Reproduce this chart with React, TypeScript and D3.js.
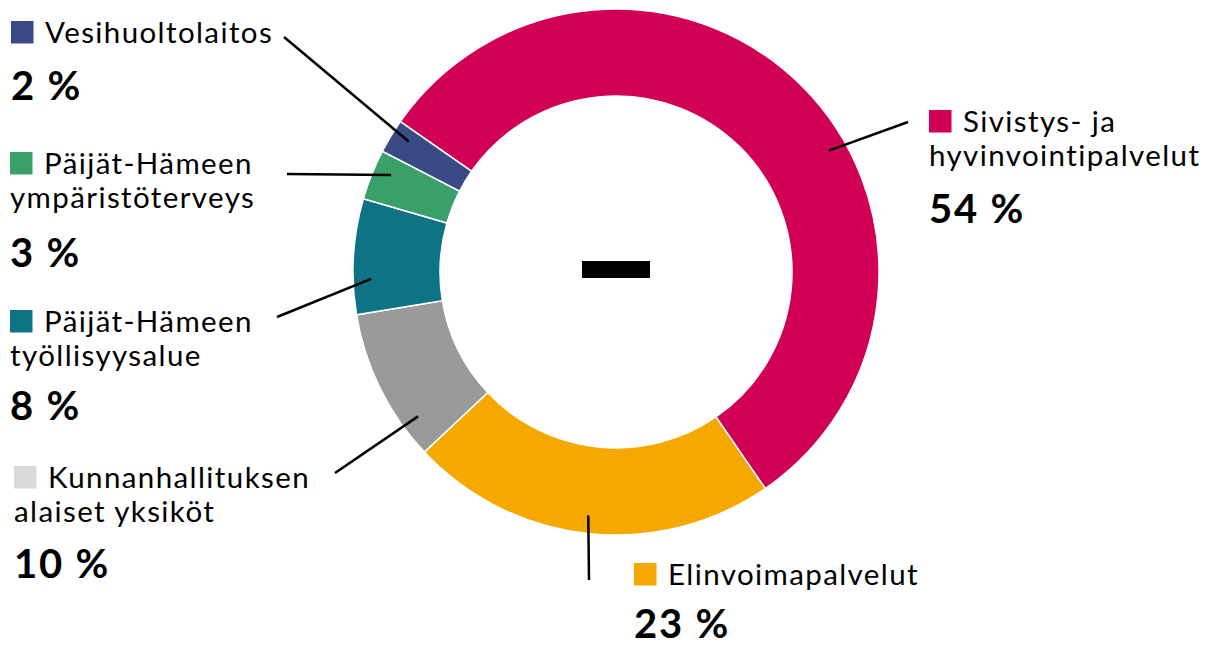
import React from "react";
import * as d3 from "d3";

const categories = [
  "Sivistys- ja hyvinvointipalvelut",
  "Elinvoimapalvelut",
  "Kunnanhallituksen alaiset yksiköt",
  "Päijät-Hämeen työllisyysalue",
  "Päijät-Hämeen ympäristöterveys",
  "Vesihuoltolaitos",
];
const shares = [55.7, 22.6, 9.4, 7.1, 3.1, 2.1];
// printed percentage labels
const pctLabels = ["54 %", "23 %", "10 %", "8 %", "3 %", "2 %"];
const labelLines = [
  ["Sivistys- ja", "hyvinvointipalvelut"],
  ["Elinvoimapalvelut"],
  ["Kunnanhallituksen", "alaiset yksiköt"],
  ["Päijät-Hämeen", "työllisyysalue"],
  ["Päijät-Hämeen", "ympäristöterveys"],
  ["Vesihuoltolaitos"],
];

const sliceColors = ["#D10056", "#F5A800", "#9A9A9A", "#0E7485", "#3AA06A", "#3A4A85"];
const swatchColors = ["#D10056", "#F5A800", "#D9D9D9", "#0E7485", "#3AA06A", "#3A4A85"];

// layout: label block anchor (square top-left), leader line outer end, leader inner angle (deg)
const layout = [
  { sx: 929, sy: 110, lx: 908, ly: 122, ang: 60.3, pctY: 223 },
  { sx: 634, sy: 563, lx: 589, ly: 580, ang: 186.5, pctY: 638 },
  { sx: 14, sy: 466, lx: 335, ly: 473, ang: 233.9, pctY: 578 },
  { sx: 10, sy: 310, lx: 277, ly: 317, ang: 268.4, pctY: 420 },
  { sx: 10, sy: 152, lx: 287, ly: 174, ang: 293.3, pctY: 267 },
  { sx: 11, sy: 21, lx: 284, ly: 37, ang: 302.2, pctY: 100 },
];

const W = 1209;
const H = 646;
const cx = 616;
const cy = 272;
const outerR = 263;
const innerR = 176;
const startDeg = -55.1;

export default function App() {
  const pie = d3
    .pie<number>()
    .value((d) => d)
    .sort(null)
    .startAngle((startDeg * Math.PI) / 180)
    .endAngle((startDeg * Math.PI) / 180 + 2 * Math.PI);
  const arcs = pie(shares);
  const arc = d3.arc<d3.PieArcDatum<number>>().innerRadius(innerR).outerRadius(outerR);
  const font = "Lato, 'Noto Sans', sans-serif";

  return (
    <svg
      width={W}
      height={H}
      style={{ position: "absolute", left: 0, top: 0, background: "#fff" }}
    >
      <g transform={`translate(${cx},${cy})`}>
        {arcs.map((a, i) => (
          <path key={i} d={arc(a) || ""} fill={sliceColors[i]} stroke="#fff" strokeWidth={1.5} />
        ))}
      </g>
      <rect x={582} y={261} width={68} height={17} fill="#000" />
      {layout.map((l, i) => {
        const r = 245;
        const t = (l.ang * Math.PI) / 180;
        const ex = cx + r * Math.sin(t);
        const ey = cy - r * Math.cos(t);
        return (
          <line key={"l" + i} x1={l.lx} y1={l.ly} x2={ex} y2={ey} stroke="#000" strokeWidth={2.5} />
        );
      })}
      {categories.map((c, i) => {
        const l = layout[i];
        const lines = labelLines[i];
        return (
          <g key={c}>
            <rect x={l.sx} y={l.sy} width={22.5} height={22.5} fill={swatchColors[i]} />
            {lines.map((t, j) => (
              <text
                key={j}
                x={j === 0 ? l.sx + 34 : l.sx}
                y={l.sy + 22 + j * 33.5}
                fontFamily={font}
                fontSize={29.5}
                letterSpacing={1.4}
                fill="#000"
              >
                {t}
              </text>
            ))}
            <text x={l.sx} y={l.pctY} fontFamily={font} fontSize={40} fontWeight={700} letterSpacing={1.8} fill="#000">
              {pctLabels[i]}
            </text>
          </g>
        );
      })}
    </svg>
  );
}
